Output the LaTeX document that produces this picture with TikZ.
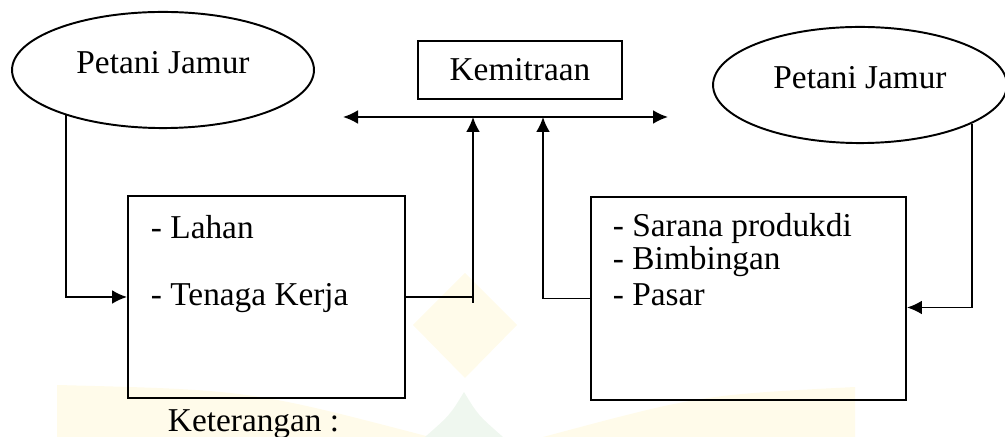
\documentclass[tikz,border=0pt]{standalone}
\usepackage{fontspec}
\setmainfont{Liberation Serif}
\definecolor{wmyellow}{RGB}{255,251,234}
\definecolor{wmgreen}{RGB}{239,247,239}
\usetikzlibrary{arrows.meta}
\usetikzlibrary{shapes.geometric}
\usetikzlibrary{calc}
\tikzstyle{base}=[x=0.36pt, y=-0.36pt, line width=0.7pt, font=\fontsize{12}{14}\selectfont]
\tikzstyle{pelaku}=[draw, ellipse, inner sep=0pt, minimum height=41.8pt]
\tikzstyle{kotak}=[draw, rectangle, inner sep=0pt]
\tikzstyle{isi}=[anchor=west, inner sep=0pt]
\tikzstyle{panah}=[-{Latex[length=5.4pt,width=5pt]}]
\tikzstyle{duapanah}=[{Latex[length=5.4pt,width=5pt]}-{Latex[length=5.4pt,width=5pt]}]

\begin{document}
\begin{tikzpicture}[base]
    \path [use as bounding box] (0,0) rectangle (1005,437);
    % watermark
    \fill [wmyellow] (57,385) .. controls (250,390) .. (430,437) -- (57,437) -- cycle;
    \fill [wmyellow] (543,437) .. controls (700,395) .. (855,387) -- (855,437) -- cycle;
    \fill [wmyellow] (465,273) -- (517,325) -- (465,378) -- (413,325) -- cycle;
    \fill [wmgreen] (464,392) .. controls (450,415) .. (425,437) -- (503,437) .. controls (478,415) .. (464,392) -- cycle;
    % pelaku
    \node [pelaku, minimum width=108.7pt] (petaniA) at (163,70) {};
    \node (tpetaniA) at (163,63) {Petani Jamur};
    \node [pelaku, minimum width=105.8pt] (petaniB) at (860,85) {};
    \node (tpetaniB) at (860,78) {Petani Jamur};
    \node [kotak, minimum width=73.4pt, minimum height=21.2pt] (mitra) at (520,70) {Kemitraan};
    % kotak isi
    \node [kotak, minimum width=99.7pt, minimum height=72.7pt] (lahan) at (266.5,297) {};
    \node [isi] (lahanA) at (150,227) {- Lahan};
    \node [isi] (lahanB) at (150,298) {- Tenaga Kerja};
    \node [kotak, minimum width=113.4pt, minimum height=73.1pt] (sarana) at (748.5,298.5) {};
    \node [isi] (saranaA) at (612,228) {- Sarana produkdi};
    \node [isi] (saranaB) at (612,262) {- Bimbingan};
    \node [isi] (saranaC) at (612,295) {- Pasar};
    \node [isi] (ket) at (167,424) {Keterangan :};
    % garis
    \coordinate (ujungA) at (343,117);
    \coordinate (ujungB) at (668,117);
    \coordinate (masukA) at (473,117);
    \coordinate (masukB) at (543,117);
    \draw [duapanah] (ujungA) -- (ujungB);
    \draw [panah] (petaniA.205) |- (lahan.west);
    \draw (lahan.east) -- (lahan.east -| masukA);
    \draw [panah] ($(lahan.east -| masukA)+(0,6)$) -- (masukA);
    \draw [panah] (sarana.west) -| (masukB);
    \draw [panah] (petaniB.341) |- ($(sarana.east)+(0,9)$);
\end{tikzpicture}
\end{document}
